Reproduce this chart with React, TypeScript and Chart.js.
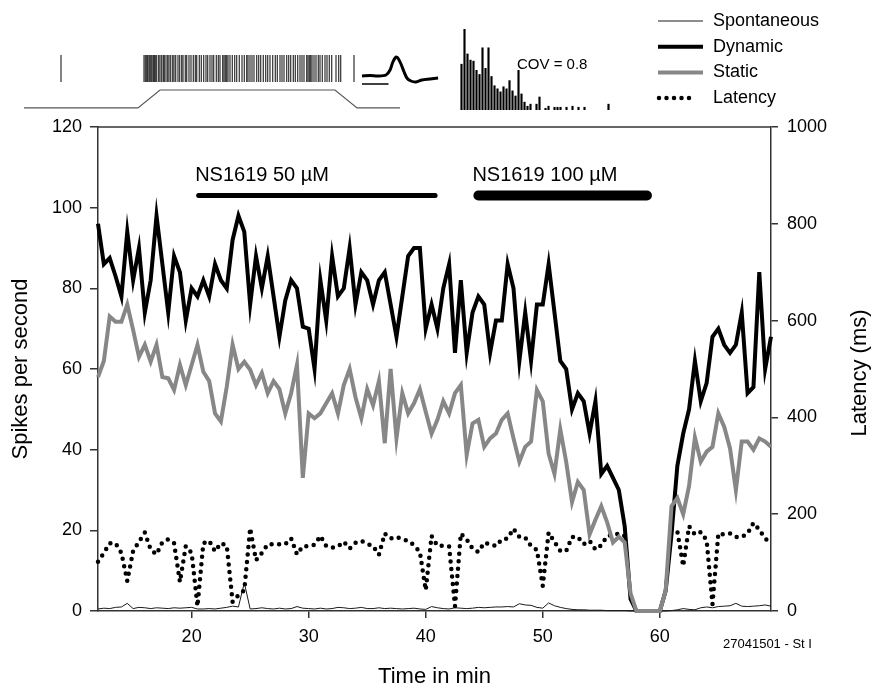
import React, { useEffect, useRef } from 'react';
import { Chart, registerables } from 'chart.js';

Chart.register(...registerables);

const FONT = "'Liberation Sans', Arial, Helvetica, sans-serif";

// ---------------- main time course data ----------------
const timeMin = [
  12, 12.5, 13, 13.5, 14, 14.5, 15, 15.5, 16, 16.5, 17, 17.5, 18, 18.5, 19, 19.5,
  20, 20.5, 21, 21.5, 22, 22.5, 23, 23.5, 24, 24.5, 25, 25.5, 26, 26.5, 27, 27.5,
  28, 28.5, 29, 29.5, 30, 30.5, 31, 31.5, 32, 32.5, 33, 33.5, 34, 34.5, 35, 35.5,
  36, 36.5, 37, 37.5, 38, 38.5, 39, 39.5, 40, 40.5, 41, 41.5, 42, 42.5, 43, 43.5,
  44, 44.5, 45, 45.5, 46, 46.5, 47, 47.5, 48, 48.5, 49, 49.5, 50, 50.5, 51, 51.5,
  52, 52.5, 53, 53.5, 54, 54.5, 55, 55.5, 56, 56.5, 57, 57.5, 58, 58.5, 59, 59.5,
  60, 60.5, 61, 61.5, 62, 62.5, 63, 63.5, 64, 64.5, 65, 65.5, 66, 66.5, 67, 67.5,
  68, 68.5, 69, 69.5,
];

const dynamicRate = [
  96, 86, 87.5, 83, 78, 94, 82, 90, 74, 82,
  98, 86, 74, 88, 84, 72, 80, 78, 82, 78,
  86, 82, 80, 92, 98, 94, 76, 88, 80, 88,
  78, 68, 77, 82, 80, 70.5, 70, 60, 82, 72,
  88, 78, 80, 90, 76, 84, 82, 76, 82, 84,
  76, 68, 78, 88, 90, 90, 70, 76, 70, 80,
  86, 64, 82, 64, 74, 78, 76, 64, 72, 72,
  86, 80, 62, 74, 62, 76, 76, 86, 74, 62,
  60, 50, 54, 52, 44, 52, 34, 36, 33, 30,
  21, 3, 0, 0, 0, 0, 0, 5, 19, 36,
  44, 50, 62, 52, 56.5, 68, 70, 66, 64, 66,
  74, 54, 55.5, 84, 60, 68,
];

const staticRate = [
  58, 62, 73, 71.7, 71.7, 76, 69.7, 63, 66, 61.8,
  66, 58, 57.7, 54.8, 61, 56, 61, 66, 59.3, 57,
  49, 47, 55.6, 66, 60, 61.8, 59.8, 56, 59, 54,
  57, 55, 49, 54, 61, 33, 49, 47.8, 49, 51.5,
  54, 49, 56, 60, 53, 47.8, 55, 51, 57, 41.6,
  60, 42.8, 54, 49, 51.5, 55, 49.4, 44, 47.4, 52,
  49, 54, 56, 38.7, 46.5, 47.4, 40.7, 42.8, 44, 47.4,
  49, 42.8, 37, 40.7, 42, 54.8, 52, 39, 34, 45,
  37, 27, 32, 30, 19, 22.6, 26, 22, 17, 18.4,
  17, 4.4, 0, 0, 0, 0, 0, 5, 26, 28,
  24, 31, 43, 37, 39.5, 40.7, 49, 45.7, 40.3, 30,
  42, 42, 40, 42.8, 42, 40.7,
];

const spontaneousRate = [
  0.5, 0.7, 0.6, 0.9, 1.0, 1.9, 0.6, 0.9, 0.8, 0.6,
  0.8, 0.7, 0.6, 0.8, 0.7, 0.8, 0.9, 0.5, 0.5, 0.6,
  0.5, 0.7, 0.9, 1.2, 1.0, 7.0, 0.5, 0.6, 0.8, 0.6,
  0.5, 0.7, 0.5, 0.6, 1.1, 0.7, 0.6, 0.5, 0.7, 0.5,
  0.6, 0.9, 0.8, 0.6, 0.7, 0.9, 0.6, 0.6, 0.8, 0.6,
  0.7, 0.6, 0.5, 0.6, 0.7, 0.5, 0.4, 1.1, 0.8, 0.6,
  0.5, 0.8, 0.7, 0.6, 0.7, 0.9, 0.8, 0.9, 1.0, 1.0,
  1.1, 1.0, 1.8, 1.5, 1.4, 0.9, 0.7, 2.0, 1.3, 0.9,
  0.6, 0.4, 0.3, 0.3, 0.2, 0.2, 0.2, 0.1, 0.1, 0.1,
  0.1, 0, 0, 0, 0, 0, 0, 0, 0.1, 0.3,
  0.6, 0.4, 0.3, 0.8, 1.0, 0.8, 1.1, 1.2, 1.3, 1.9,
  1.2, 1.1, 1.2, 1.3, 1.5, 1.2,
];

const latencyMs = [
  102, 120, 140, 140, 120, 62, 124, 143, 162, 127,
  117, 142, 148, 140, 60, 134, 120, 10, 140, 145,
  123, 140, 135, 19, 33, 43, 171, 105, 120, 138,
  138, 138, 138, 150, 117, 134, 134, 137, 155, 134,
  131, 133, 143, 129, 141, 145, 139, 134, 116, 160,
  150, 153, 148, 145, 136, 122, 43, 155, 135, 135,
  133, 10, 160, 148, 129, 122, 141, 138, 134, 148,
  150, 170, 153, 152, 134, 126, 52, 162, 143, 124,
  124, 153, 153, 138, 145, 127, 136, 155, 157, 160,
  155, null, null, null, null, null, null, null, 170, 164,
  93, 175, 158, 163, 146, 14, 160, 158, 160, 153,
  153, 160, 182, 168, 150, 140,
];

const seriesNames = ['Spontaneous', 'Dynamic', 'Static', 'Latency'];

// drug application periods
const drugLabels = ['NS1619 50 µM', 'NS1619 100 µM'];
const drugStart = [20.6, 44.5];
const drugEnd = [40.8, 58.9];
const drugLevel = 103;
const drugLabelLevel = 106.7;

// axes
const xTitle = 'Time in min';
const yTitle = 'Spikes per second';
const y1Title = 'Latency (ms)';
const recordingId = '27041501 - St I';

// ---------------- inset data ----------------
const rasterSpikeMs = [
  410,
  1240, 1253, 1267, 1277, 1290, 1300, 1310, 1320, 1333, 1343, 1353, 1367, 1387, 1400,
  1417, 1433, 1443, 1460, 1477, 1490, 1507, 1527, 1540, 1557, 1580, 1597, 1617, 1630,
  1653, 1667, 1690, 1710, 1733, 1753, 1767, 1793, 1813, 1837, 1860, 1877, 1900, 1920,
  1937, 1963, 1983, 2000, 2027, 2040, 2053, 2067, 2080, 2100, 2123, 2147, 2167, 2193,
  2220, 2243, 2267, 2280, 2300, 2320, 2340, 2367, 2387, 2407, 2433, 2457, 2477, 2500,
  2527, 2553, 2573, 2600, 2620, 2640, 2667, 2687, 2707, 2733, 2753, 2777, 2800, 2820,
  2840, 2867, 2880, 2893, 2907, 2920, 2940, 2960, 2983, 3000, 3023, 3050, 3070, 3093,
  3117, 3160, 3187, 3207,
  3340,
];
const stimTimeMs = [40, 1180, 1400, 3150, 3370, 3800];
const stimLevel = [0, 0, 1, 1, 0, 0];

const waveTimeMs = [0, 0.26, 0.51, 0.77, 0.9, 0.99, 1.09, 1.15, 1.25, 1.35, 1.44, 1.57, 1.73, 1.92, 2.18, 2.44];
const waveAmp = [0, 0.5, 0, 1, 6, 14, 19, 18, 12, 4, -2, -5, -6, -4, -3, -2];
const waveBarMs = [0, 0.85];
const waveBarLevel = -8;

const isiCounts = [
  45, 79, 55, 49, 48, 39, 35, 61, 41, 61, 33, 24, 21, 18, 23, 21, 29, 19, 14, 39,
  16, 8, 4, 6, 0, 6, 13, 0, 2, 4, 0, 3, 3, 3, 0, 3, 0, 4, 0, 3,
  0, 3, 0, 0, 0, 0, 0, 0, 0, 6, 0, 0, 0,
];
const covLabel = 'COV = 0.8';

// ---------------- helpers ----------------
const toXY = (ys: (number | null)[]) => timeMin.map((t, i) => ({ x: t, y: ys[i] }));

function useChart(ref: React.RefObject<HTMLCanvasElement>, make: () => any) {
  useEffect(() => {
    if (!ref.current) return;
    const chart = new Chart(ref.current, make());
    return () => chart.destroy();
  }, []);
}

const mainDecor = {
  id: 'mainDecor',
  afterDraw(chart: any) {
    const { ctx, chartArea, scales } = chart;
    const { left, right, top, bottom } = chartArea;
    const x = scales.x;
    const y = scales.y;
    ctx.save();
    // top frame line
    ctx.strokeStyle = '#333';
    ctx.lineWidth = 1.5;
    ctx.beginPath();
    ctx.moveTo(left, top);
    ctx.lineTo(right, top);
    ctx.stroke();

    // drug labels
    ctx.fillStyle = '#000';
    ctx.font = `20px ${FONT}`;
    ctx.textAlign = 'left';
    ctx.textBaseline = 'alphabetic';
    const barWidths = [5, 10];
    drugLabels.forEach((t, i) => {
      ctx.fillText(t, x.getPixelForValue(drugStart[i]) - barWidths[i] / 2 - 1, y.getPixelForValue(drugLabelLevel));
    });

    // right axis title (reads bottom-to-top)
    ctx.save();
    ctx.translate(chart.width - 13, (top + bottom) / 2 + 4);
    ctx.rotate(-Math.PI / 2);
    ctx.font = `22px ${FONT}`;
    ctx.textAlign = 'center';
    ctx.textBaseline = 'middle';
    ctx.fillText(y1Title, 0, 0);
    ctx.restore();

    // recording id
    ctx.font = `13px ${FONT}`;
    ctx.textAlign = 'left';
    ctx.textBaseline = 'middle';
    ctx.fillText(recordingId, right - 48, bottom + 33);

    // legend
    const lx0 = right - 113;
    const lx1 = right - 68;
    const tx = right - 58;
    const ly0 = 21;
    const lstep = 25.7;
    seriesNames.forEach((name, i) => {
      const ds = chart.data.datasets.find((d: any) => d.label === name);
      const yy = ly0 + i * lstep;
      ctx.save();
      ctx.strokeStyle = ds.borderColor;
      ctx.lineWidth = ds.borderWidth;
      ctx.setLineDash(ds.borderDash || []);
      ctx.lineCap = ds.borderCapStyle || 'butt';
      ctx.beginPath();
      ctx.moveTo(lx0 + (ds.borderDash ? 1 : 0), yy);
      ctx.lineTo(ds.borderDash ? lx1 - 7 : lx1, yy);
      ctx.stroke();
      ctx.restore();
      ctx.fillStyle = '#000';
      ctx.font = `18px ${FONT}`;
      ctx.textAlign = 'left';
      ctx.textBaseline = 'middle';
      ctx.fillText(name, tx, yy);
    });
    ctx.restore();
  },
};

function MainChart() {
  const ref = useRef<HTMLCanvasElement>(null);
  useChart(ref, () => {
    const axisColor = '#333';
    const plainTick = (v: any) => String(v);
    return {
      type: 'line',
      data: {
        datasets: [
          { label: 'Spontaneous', data: toXY(spontaneousRate), yAxisID: 'y', borderColor: '#1a1a1a', borderWidth: 1, order: 4 },
          { label: 'Dynamic', data: toXY(dynamicRate), yAxisID: 'y', borderColor: '#000000', borderWidth: 4, order: 1 },
          { label: 'Static', data: toXY(staticRate), yAxisID: 'y', borderColor: '#878787', borderWidth: 4, order: 0 },
          {
            label: 'Latency', data: toXY(latencyMs), yAxisID: 'y1', borderColor: '#000000', borderWidth: 4.5,
            borderDash: [0, 7.5], borderCapStyle: 'round', spanGaps: false, order: 3,
          },
          {
            label: drugLabels[0], data: [{ x: drugStart[0], y: drugLevel }, { x: drugEnd[0], y: drugLevel }],
            yAxisID: 'y', borderColor: '#000000', borderWidth: 5, borderCapStyle: 'round', order: 2,
          },
          {
            label: drugLabels[1], data: [{ x: drugStart[1], y: drugLevel }, { x: drugEnd[1], y: drugLevel }],
            yAxisID: 'y', borderColor: '#000000', borderWidth: 10, borderCapStyle: 'round', order: 2,
          },
        ],
      },
      options: {
        responsive: false,
        animation: false,
        events: [],
        layout: { autoPadding: false, padding: { top: 127, left: 0, right: 0, bottom: 0 } },
        datasets: { line: { clip: 8 } },
        elements: { point: { radius: 0, hoverRadius: 0 }, line: { tension: 0 } },
        plugins: { legend: { display: false }, tooltip: { enabled: false } },
        scales: {
          x: {
            type: 'linear', position: 'bottom', min: 12, max: 69.5,
            ticks: { stepSize: 10, includeBounds: false, maxRotation: 0, padding: 8, color: '#000', font: { size: 18, family: FONT }, callback: plainTick },
            grid: { drawOnChartArea: false, drawTicks: true, tickLength: 7, color: axisColor, lineWidth: 1.5 },
            border: { display: true, color: axisColor, width: 1.5 },
            title: { display: true, text: xTitle, color: '#000', font: { size: 22, family: FONT, lineHeight: 1 }, padding: { top: 0, bottom: 0 } },
            afterFit: (s: any) => { s.height = 77; },
          },
          y: {
            type: 'linear', position: 'left', min: 0, max: 120,
            ticks: { stepSize: 20, padding: 8, color: '#000', font: { size: 18, family: FONT }, callback: plainTick },
            grid: { drawOnChartArea: false, drawTicks: true, tickLength: 8, color: axisColor, lineWidth: 1.5 },
            border: { display: true, color: axisColor, width: 1.5 },
            title: { display: true, text: yTitle, color: '#000', font: { size: 22, family: FONT, lineHeight: 1 }, padding: { top: 10, bottom: 0 } },
            afterFit: (s: any) => { s.width = 98; },
          },
          y1: {
            type: 'linear', position: 'right', min: 0, max: 1000,
            ticks: { stepSize: 200, padding: 9, color: '#000', font: { size: 18, family: FONT }, callback: plainTick },
            grid: { drawOnChartArea: false, drawTicks: true, tickLength: 7, color: axisColor, lineWidth: 1.5 },
            border: { display: true, color: axisColor, width: 1.5 },
            afterFit: (s: any) => { s.width = 102; },
          },
        },
      },
      plugins: [mainDecor],
    };
  });
  return <canvas ref={ref} width={873} height={688} style={{ position: 'absolute', left: 0, top: 0, width: 873, height: 688 }} />;
}

const hiddenAxis = { display: false };

function RasterInset() {
  const ref = useRef<HTMLCanvasElement>(null);
  useChart(ref, () => ({
    type: 'line',
    data: {
      datasets: [
        {
          label: 'spikes', data: rasterSpikeMs.map((t) => ({ x: t, y: 2.2 })), showLine: false,
          pointStyle: 'line', rotation: 90, pointRadius: 13.5, pointBorderWidth: 1.2, borderWidth: 1.2,
          pointBorderColor: 'rgba(10,10,10,0.85)', borderColor: 'rgba(10,10,10,0.85)', clip: false,
        },
        {
          label: 'stimulus', data: stimTimeMs.map((t, i) => ({ x: t, y: stimLevel[i] })),
          borderColor: '#555', borderWidth: 1.2, pointRadius: 0,
        },
      ],
    },
    options: {
      responsive: false, animation: false, events: [],
      layout: { autoPadding: false, padding: 0 },
      plugins: { legend: { display: false }, tooltip: { enabled: false } },
      elements: { line: { tension: 0 } },
      scales: {
        x: { ...hiddenAxis, type: 'linear', min: 0, max: 3900 },
        y: { ...hiddenAxis, type: 'linear', min: -0.4, max: 3.8 },
      },
    },
  }));
  return <canvas ref={ref} width={390} height={75} style={{ position: 'absolute', left: 20, top: 40, width: 390, height: 75 }} />;
}

function WaveInset() {
  const ref = useRef<HTMLCanvasElement>(null);
  useChart(ref, () => ({
    type: 'line',
    data: {
      datasets: [
        {
          label: 'waveform', data: waveTimeMs.map((t, i) => ({ x: t, y: waveAmp[i] })),
          borderColor: '#000', borderWidth: 3, pointRadius: 0, tension: 0.3,
        },
        {
          label: 'scale', data: waveBarMs.map((t) => ({ x: t, y: waveBarLevel })),
          borderColor: '#000', borderWidth: 1.5, pointRadius: 0,
        },
      ],
    },
    options: {
      responsive: false, animation: false, events: [],
      layout: { autoPadding: false, padding: 0 },
      plugins: { legend: { display: false }, tooltip: { enabled: false } },
      scales: {
        x: { ...hiddenAxis, type: 'linear', min: -0.128, max: 2.757 },
        y: { ...hiddenAxis, type: 'linear', min: -19, max: 31 },
      },
    },
  }));
  return <canvas ref={ref} width={90} height={50} style={{ position: 'absolute', left: 358, top: 45, width: 90, height: 50 }} />;
}

const covPlugin = {
  id: 'cov',
  afterDraw(chart: any) {
    const { ctx, chartArea } = chart;
    ctx.save();
    ctx.fillStyle = '#000';
    ctx.font = `15px ${FONT}`;
    ctx.textAlign = 'left';
    ctx.textBaseline = 'middle';
    ctx.fillText(covLabel, chartArea.left + 57, chartArea.top + 37);
    ctx.restore();
  },
};

function HistInset() {
  const ref = useRef<HTMLCanvasElement>(null);
  useChart(ref, () => ({
    type: 'bar',
    data: {
      labels: isiCounts.map((_, i) => String(i)),
      datasets: [
        { label: 'ISI', data: isiCounts, backgroundColor: '#000', borderWidth: 0, barPercentage: 1, categoryPercentage: 0.72 },
      ],
    },
    options: {
      responsive: false, animation: false, events: [],
      layout: { autoPadding: false, padding: 0 },
      plugins: { legend: { display: false }, tooltip: { enabled: false } },
      scales: {
        x: {
          display: true, ticks: { display: false }, grid: { display: false, drawTicks: false },
          border: { display: true, color: '#999', width: 1 },
        },
        y: { display: false, min: 0, max: 80 },
      },
    },
    plugins: [covPlugin],
  }));
  return <canvas ref={ref} width={159} height={82} style={{ position: 'absolute', left: 460, top: 28, width: 159, height: 82 }} />;
}

export default function App() {
  return (
    <div style={{ position: 'fixed', left: 0, top: 0, width: 873, height: 688, background: '#fff', overflow: 'hidden' }}>
      <MainChart />
      <RasterInset />
      <WaveInset />
      <HistInset />
    </div>
  );
}
